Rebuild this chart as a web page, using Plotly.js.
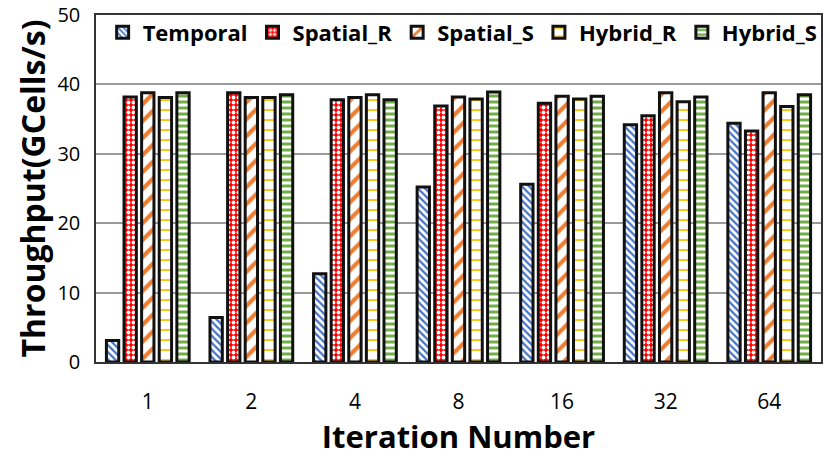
<!DOCTYPE html>
<html>
<head>
<meta charset="utf-8">
<script src="https://cdn.plot.ly/plotly-3.0.1.min.js"></script>
<style>
  html, body { margin: 0; padding: 0; background: #fff; }
  #chart { width: 830px; height: 457px; }
</style>
</head>
<body>
<div id="chart"></div>
<script>
var iterations = ['1', '2', '4', '8', '16', '32', '64'];
var temporal = [3.1, 6.4, 12.7, 25.2, 25.6, 34.2, 34.4];
var spatialR = [38.2, 38.8, 37.8, 36.9, 37.3, 35.5, 33.3];
var spatialS = [38.8, 38.1, 38.1, 38.2, 38.3, 38.8, 38.8];
var hybridR = [38.1, 38.1, 38.5, 37.9, 37.9, 37.5, 36.8];
var hybridS = [38.8, 38.5, 37.8, 38.9, 38.3, 38.2, 38.5];
var yTicks = [0, 10, 20, 30, 40, 50];

var font = 'Open Sans, Noto Sans, sans-serif';
var outline = { color: '#111', width: 3 };

function series(name, values, pattern) {
    pattern.fgopacity = 1;
    pattern.fillmode = 'replace';
    return {
        x: iterations,
        y: values,
        name: name,
        type: 'bar',
        marker: { color: pattern.bgcolor, line: outline, pattern: pattern }
    };
}

var data = [
    series('Temporal', temporal, { shape: '\\', fgcolor: '#4472C4', bgcolor: '#fff', size: 5, solidity: 0.45 }),
    series('Spatial_R', spatialR, { shape: '.', fgcolor: '#fff', bgcolor: '#FF0000', size: 5, solidity: 0.45 }),
    series('Spatial_S', spatialS, { shape: '/', fgcolor: '#ED7D31', bgcolor: '#fff', size: 12, solidity: 0.35 }),
    series('Hybrid_R', hybridR, { shape: '-', fgcolor: '#FFC000', bgcolor: '#fff', size: 10, solidity: 0.18 }),
    series('Hybrid_S', hybridS, { shape: '-', fgcolor: '#70AD47', bgcolor: '#fff', size: 6, solidity: 0.5 })
];

var layout = {
    width: 830,
    height: 457,
    margin: { l: 96, r: 8, t: 15, b: 95 },
    paper_bgcolor: '#fff',
    plot_bgcolor: '#fff',
    font: { family: font, color: '#000' },
    barmode: 'group',
    bargap: 0.15,
    bargroupgap: 0.3,
    showlegend: true,
    legend: {
        orientation: 'h',
        x: 0.505, xanchor: 'center',
        y: 1.01, yanchor: 'top',
        font: { family: font, size: 22, weight: 'bold' },
        bgcolor: 'rgba(0,0,0,0)',
        itemwidth: 30,
        traceorder: 'normal'
    },
    xaxis: {
        type: 'category',
        showline: true, linecolor: '#333', linewidth: 1.5, mirror: true,
        ticks: '',
        tickfont: { family: font, size: 21 },
        ticklabelstandoff: 20,
        title: { text: 'Iteration Number', font: { family: font, size: 31, weight: 'bold' }, standoff: 10 }
    },
    yaxis: {
        range: [0, 50],
        tickvals: yTicks,
        ticklabeloverflow: 'allow',
        showline: true, linecolor: '#333', linewidth: 1.5, mirror: true,
        showgrid: true, gridcolor: '#9a9a9a', gridwidth: 1.5,
        zeroline: false,
        ticks: '',
        tickfont: { family: font, size: 20 },
        ticklabelstandoff: 10,
        title: { text: 'Throughput(GCells/s)', font: { family: font, size: 32, weight: 'bold' }, standoff: 2 }
    }
};

Plotly.newPlot('chart', data, layout, { displayModeBar: false, displaylogo: false });
</script>
</body>
</html>
